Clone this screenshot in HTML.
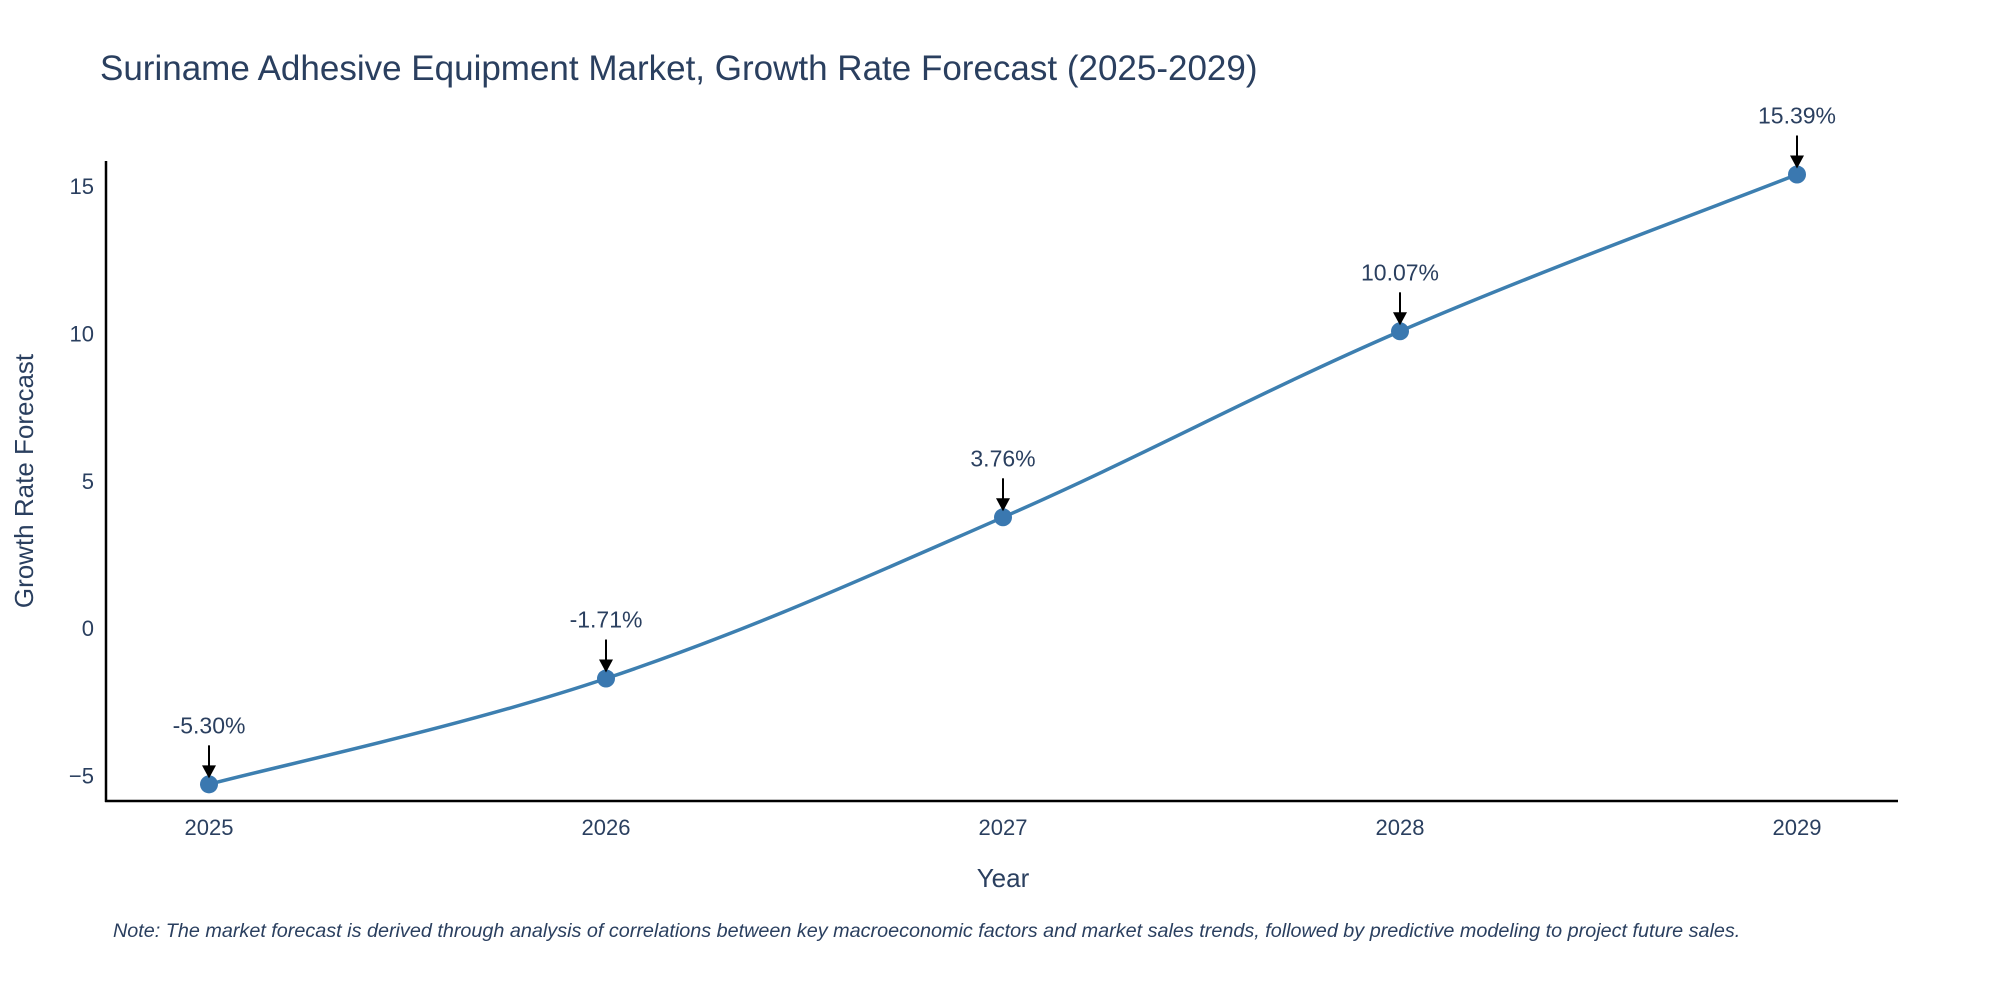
<!DOCTYPE html>
<html><head><meta charset="utf-8"><style>
html,body{margin:0;padding:0;background:#fff;}
svg{display:block;font-family:"Liberation Sans",sans-serif;}
</style></head><body>
<svg id="chart" width="2000" height="1000" viewBox="0 0 2000 1000">
<text x="100" y="80" font-size="35" fill="#2a3f5f">Suriname Adhesive Equipment Market, Growth Rate Forecast (2025-2029)</text>
<g id="yticks"></g>
<g id="xticks"></g>
<line x1="106" y1="161" x2="106" y2="802" stroke="#000" stroke-width="2.5"/>
<line x1="105" y1="801" x2="1898" y2="801" stroke="#000" stroke-width="2.5"/>
<path id="series" fill="none" stroke="#3d7fb0" stroke-width="3.5"/>
<g id="marks"></g>
<text x="1003" y="887" font-size="26" fill="#2a3f5f" text-anchor="middle">Year</text>
<text transform="translate(33,481) rotate(-90)" font-size="26" fill="#2a3f5f" text-anchor="middle">Growth Rate Forecast</text>
<text x="113" y="937" font-size="19.8" font-style="italic" fill="#2a3f5f">Note: The market forecast is derived through analysis of correlations between key macroeconomic factors and market sales trends, followed by predictive modeling to project future sales.</text>
</svg>
<script>
const years=[2025,2026,2027,2028,2029];
const values=[-5.30,-1.71,3.76,10.07,15.39];
const labels=["-5.30%","-1.71%","3.76%","10.07%","15.39%"];
const yTicks=[-5,0,5,10,15];
const yTickLabels=["\u22125","0","5","10","15"];
const NS="http://www.w3.org/2000/svg";
function xs(v){return 209+(v-2025)*(1797-209)/4;}
function ys(v){return 775.5-(v+5)*(775.5-186)/20;}
function mk(t,a){const e=document.createElementNS(NS,t);for(const k in a)e.setAttribute(k,a[k]);return e;}
const yg=document.getElementById('yticks');
yTicks.forEach((t,i)=>{const e=mk('text',{x:94,y:ys(t)+8,'font-size':22,fill:'#2a3f5f','text-anchor':'end'});


e.textContent=yTickLabels[i];yg.appendChild(e);});
const xg=document.getElementById('xticks');
years.forEach(y=>{const e=mk('text',{x:xs(y),y:835,'font-size':22,fill:'#2a3f5f','text-anchor':'middle'});


e.textContent=y;xg.appendChild(e);});
const P=years.map((y,i)=>[xs(y),ys(values[i])]);
let d='M'+P[0][0]+','+P[0][1];
for(let i=0;i<P.length-1;i++){const p0=P[Math.max(0,i-1)],p1=P[i],p2=P[i+1],p3=P[Math.min(P.length-1,i+2)];
const s=0.18;
d+=' C'+(p1[0]+(p2[0]-p0[0])*s)+','+(p1[1]+(p2[1]-p0[1])*s)+' '+(p2[0]-(p3[0]-p1[0])*s)+','+(p2[1]-(p3[1]-p1[1])*s)+' '+p2[0]+','+p2[1];}
document.getElementById('series').setAttribute('d',d);
const mg=document.getElementById('marks');
P.forEach((p,i)=>{
const c=mk('circle',{cx:p[0],cy:p[1],r:9,fill:'#3a78b0'});


mg.appendChild(c);
const l=mk('line',{x1:p[0],y1:p[1]-39,x2:p[0],y2:p[1]-16,stroke:'#000','stroke-width':2});


mg.appendChild(l);
const h=mk('path',{d:'M'+(p[0]-7)+','+(p[1]-19)+' L'+(p[0]+7)+','+(p[1]-19)+' L'+p[0]+','+(p[1]-6)+' Z',fill:'#000'});


mg.appendChild(h);
const t=mk('text',{x:p[0],y:p[1]-51,'font-size':23,fill:'#2a3f5f','text-anchor':'middle'});


t.textContent=labels[i];mg.appendChild(t);});
</script>
</body></html>
